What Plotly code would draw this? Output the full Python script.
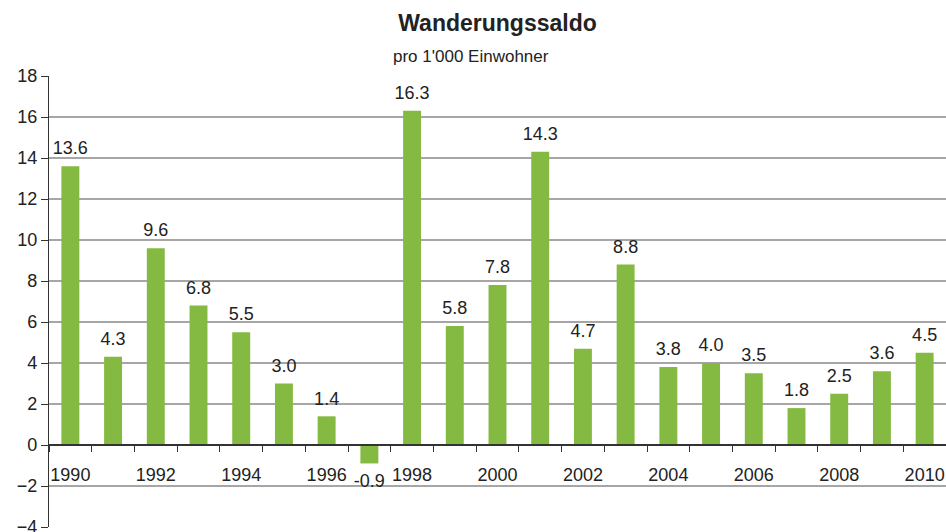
import plotly.graph_objects as go

years = list(range(1990, 2011))
values = [13.6, 4.3, 9.6, 6.8, 5.5, 3.0, 1.4, -0.9, 16.3, 5.8, 7.8, 14.3,
          4.7, 8.8, 3.8, 4.0, 3.5, 1.8, 2.5, 3.6, 4.5]
year_ticks = list(range(1990, 2011, 2))
y_ticks = list(range(-4, 19, 2))

FONT = "Liberation Sans, Arial, sans-serif"

label_pos = "<span style='font-size:18px'>%{y:.1f}</span><br>&nbsp;"
label_neg = "&nbsp;<br>&nbsp;<br><span style='font-size:18px'>%{y:.1f}</span>"
templates = [label_neg if v < 0 else label_pos for v in values]

fig = go.Figure(go.Bar(
    x=years, y=values,
    marker=dict(color="#84BA41", line=dict(width=0)),
    texttemplate=templates,
    textposition="outside", constraintext="none",
    textfont=dict(family=FONT, size=6, color="#222"),
    cliponaxis=False, width=0.42,
))

fig.update_layout(
    width=946, height=532,
    margin=dict(l=49, r=0, t=76, b=5, autoexpand=False),
    plot_bgcolor="white", paper_bgcolor="white",
    showlegend=False,
    font=dict(family=FONT, size=18, color="#222"),
    title=dict(
        text="<b>Wanderungssaldo</b>",
        x=0.5, xanchor="center", xref="paper", yref="container",
        y=1 - 23 / 532, yanchor="middle",
        font=dict(family=FONT, size=23, color="#222"),
    ),
    annotations=[dict(
        text="pro 1'000 Einwohner", xref="paper", yref="paper",
        x=0.47, y=1 + (76 - 57) / 451, xanchor="center", yanchor="middle",
        showarrow=False, font=dict(family=FONT, size=17, color="#222"),
    )],
)

fig.update_yaxes(
    range=[-4, 18], tickvals=y_ticks, showgrid=True, gridcolor="#A6A6A6", gridwidth=1.5,
    zeroline=False, showline=True, linecolor="#333", linewidth=1.2,
    ticks="outside", ticklen=7, tickcolor="#333", tickfont=dict(size=18),
    ticklabeloverflow="allow", automargin=False,
)

fig.update_xaxes(
    range=[1989.5, 2010.5], tickvals=year_ticks, ticks="", showgrid=False,
    anchor="free", position=4/22, showline=True, linecolor="#333", linewidth=1.5,
    zeroline=False, ticklabelstandoff=14, tickfont=dict(size=18),
    ticklabeloverflow="allow", automargin=False,
    minor=dict(tickvals=[y + 0.5 for y in range(1989, 2011)], ticks="outside",
               ticklen=6, tickcolor="#333", tickwidth=1, showgrid=False),
)

fig.write_html("out.html", config={"displayModeBar": False},
               post_script="document.body.style.margin='0';")
